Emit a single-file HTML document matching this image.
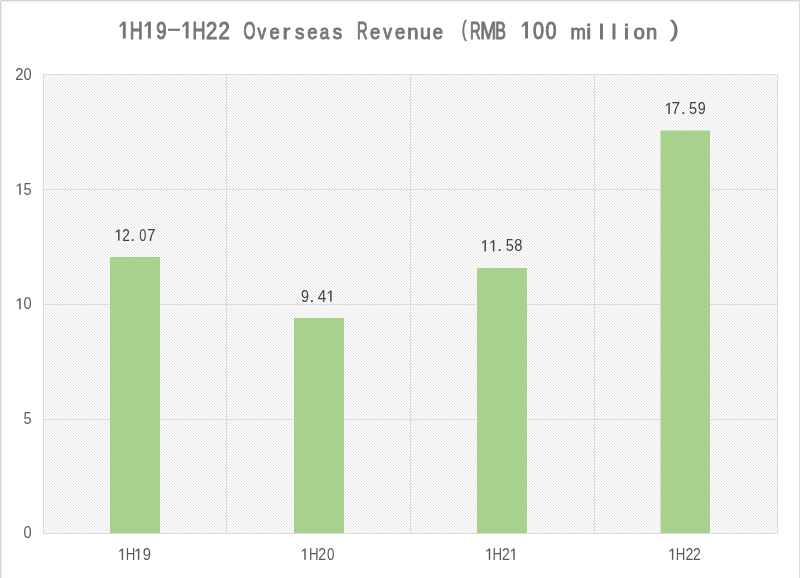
<!DOCTYPE html>
<html>
<head>
<meta charset="utf-8">
<style>
html,body{margin:0;padding:0;background:#fff;}
body{width:800px;height:578px;overflow:hidden;position:relative;font-family:"Liberation Sans", sans-serif;}
svg{position:absolute;left:0;top:0;display:block;will-change:transform;}
</style>
</head>
<body>
<svg width="800" height="578" viewBox="0 0 800 578" role="img" aria-label="1H19-1H22 Overseas Revenue (RMB 100 million): 1H19 12.07, 1H20 9.41, 1H21 11.58, 1H22 17.59">
  <defs>
    <pattern id="hatch" x="0" y="0" width="3" height="3" patternUnits="userSpaceOnUse">
      <rect x="0" y="0" width="3" height="3" fill="#fcfcfc"/>
      <rect x="0" y="0" width="1" height="1" fill="#e4e4e4"/>
      <rect x="1" y="1" width="1" height="1" fill="#e4e4e4"/>
      <rect x="2" y="2" width="1" height="1" fill="#e4e4e4"/>
    </pattern>
  </defs>
  <rect x="0" y="0" width="800" height="578" fill="#ffffff"/>
  <g shape-rendering="crispEdges">
  <rect x="0" y="0" width="800" height="1" fill="#d4d4d4"/>
  <rect x="0" y="1" width="800" height="1" fill="#ececec"/>
  <rect x="0" y="0" width="1" height="578" fill="#d4d4d4"/>
  <rect x="1" y="1" width="1" height="577" fill="#ececec"/>
  <rect x="799" y="0" width="1" height="578" fill="#dedede"/>
  <rect x="0" y="0" width="1" height="1" fill="#f4f4f4"/>
  <rect x="3" y="3" width="795" height="1" fill="#f8f8f8"/>
  <rect x="3" y="3" width="1" height="575" fill="#f8f8f8"/>
  </g>

  <rect x="43" y="74" width="735" height="460" fill="url(#hatch)" shape-rendering="crispEdges"/>
  <g stroke="#dbdbdb" stroke-width="1" shape-rendering="crispEdges" fill="none">
    <line x1="43" y1="74.5" x2="778" y2="74.5"/>
    <line x1="43" y1="189.5" x2="778" y2="189.5"/>
    <line x1="43" y1="304.5" x2="778" y2="304.5"/>
    <line x1="43" y1="419.5" x2="778" y2="419.5"/>
    <line x1="43.5" y1="74" x2="43.5" y2="534"/>
    <line x1="226.5" y1="74" x2="226.5" y2="534"/>
    <line x1="410.5" y1="74" x2="410.5" y2="534"/>
    <line x1="594.5" y1="74" x2="594.5" y2="534"/>
    <line x1="777.5" y1="74" x2="777.5" y2="534"/>
  </g>
  <g fill="#a9d18e" shape-rendering="crispEdges">
    <rect x="110" y="257" width="50" height="276"/>
    <rect x="294" y="318" width="50" height="215"/>
    <rect x="477" y="268" width="50" height="265"/>
    <rect x="660.5" y="130.5" width="49.5" height="402.5" shape-rendering="auto"/>
  </g>
  <line x1="43" y1="533.5" x2="778" y2="533.5" stroke="#dbdbdb" stroke-width="1" shape-rendering="crispEdges"/>

  <g font-family="Liberation Sans" font-weight="normal" font-size="23.2" fill="#767676" stroke="#767676" stroke-width="1.05" stroke-linejoin="round"><text x="-8.38" y="0" transform="translate(136.25 38.5) scale(0.776 1.000)">H</text><text x="-6.45" y="0" transform="translate(161.39 38.5) scale(0.798 1.000)">9</text></g><rect x="122.83" y="21.60" width="2.90" height="16.90" fill="#767676"/><polygon points="123.03,21.60 123.03,24.73 119.69,27.85 119.69,25.35" fill="#767676"/><rect x="147.97" y="21.60" width="2.90" height="16.90" fill="#767676"/><polygon points="148.17,21.60 148.17,24.73 144.82,27.85 144.82,25.35" fill="#767676"/>
  <rect x="167.98" y="28.7" width="11.97" height="2.2" fill="#767676"/>
  <g font-family="Liberation Sans" font-weight="normal" font-size="23.2" fill="#767676" stroke="#767676" stroke-width="1.05" stroke-linejoin="round"><text x="-8.38" y="0" transform="translate(199.10 38.5) scale(0.776 1.000)">H</text><text x="-6.45" y="0" transform="translate(211.67 38.5) scale(0.875 1.000)">2</text><text x="-6.45" y="0" transform="translate(224.24 38.5) scale(0.875 1.000)">2</text><text x="-9.02" y="0" transform="translate(249.38 38.5) scale(0.666 1.000)">O</text><text x="-5.80" y="0" transform="translate(261.95 38.5) scale(0.747 0.910)">v</text><text x="-6.43" y="0" transform="translate(274.52 38.5) scale(0.795 0.910)">e</text><text x="-4.44" y="0" transform="translate(287.09 38.5) scale(1.009 0.910)">r</text><text x="-5.70" y="0" transform="translate(299.66 38.5) scale(0.816 0.910)">s</text><text x="-6.43" y="0" transform="translate(312.23 38.5) scale(0.795 0.910)">e</text><text x="-6.94" y="0" transform="translate(324.80 38.5) scale(0.734 0.910)">a</text><text x="-5.70" y="0" transform="translate(337.37 38.5) scale(0.816 0.910)">s</text><text x="-8.79" y="0" transform="translate(362.51 38.5) scale(0.635 1.000)">R</text><text x="-6.43" y="0" transform="translate(375.08 38.5) scale(0.795 0.910)">e</text><text x="-5.80" y="0" transform="translate(387.65 38.5) scale(0.747 0.910)">v</text><text x="-6.43" y="0" transform="translate(400.22 38.5) scale(0.795 0.910)">e</text><text x="-6.47" y="0" transform="translate(412.79 38.5) scale(0.868 0.910)">n</text><text x="-6.43" y="0" transform="translate(425.36 38.5) scale(0.847 0.910)">u</text><text x="-6.43" y="0" transform="translate(437.93 38.5) scale(0.795 0.910)">e</text></g><rect x="185.69" y="21.60" width="2.90" height="16.90" fill="#767676"/><polygon points="185.88,21.60 185.88,24.73 182.53,27.85 182.53,25.35" fill="#767676"/>
  <g font-family="Liberation Sans" font-weight="normal" font-size="23.2" fill="#767676" stroke="#767676" stroke-width="1.05" stroke-linejoin="round"><text x="-8.79" y="0" transform="translate(475.65 38.5) scale(0.635 1.000)">R</text><text x="-9.66" y="0" transform="translate(488.22 38.5) scale(0.834 1.000)">M</text><text x="-8.08" y="0" transform="translate(500.79 38.5) scale(0.692 1.000)">B</text><text x="-6.45" y="0" transform="translate(538.50 38.5) scale(0.852 1.000)">0</text><text x="-6.45" y="0" transform="translate(551.07 38.5) scale(0.852 1.000)">0</text><text x="-9.67" y="0" transform="translate(578.21 38.5) scale(0.797 0.910)">m</text><text x="-2.57" y="0" transform="translate(588.78 38.5) scale(0.956 0.910)">i</text><text x="-2.58" y="0" transform="translate(601.35 38.5) scale(0.956 0.910)">l</text><text x="-2.58" y="0" transform="translate(613.92 38.5) scale(0.956 0.910)">l</text><text x="-2.57" y="0" transform="translate(626.49 38.5) scale(0.956 0.910)">i</text><text x="-6.45" y="0" transform="translate(639.06 38.5) scale(0.881 0.910)">o</text><text x="-6.47" y="0" transform="translate(651.63 38.5) scale(0.868 0.910)">n</text></g><rect x="525.07" y="21.60" width="2.90" height="16.90" fill="#767676"/><polygon points="525.27,21.60 525.27,24.73 521.92,27.85 521.92,25.35" fill="#767676"/>
  <g font-family="Liberation Sans" font-weight="normal" font-size="21.2" fill="#767676" stroke="#767676" stroke-width="0.7" stroke-linejoin="round"><text x="-4.13" y="0" transform="translate(464.70 35.8) scale(0.694 1.000)">(</text></g>
  <g font-family="Liberation Sans" font-weight="normal" font-size="21.2" fill="#767676" stroke="#767676" stroke-width="0.7" stroke-linejoin="round"><text x="-2.93" y="0" transform="translate(673.70 35.8) scale(1.210 1.000)">)</text></g>

  <g font-family="Liberation Sans" font-weight="normal" font-size="16.7" fill="#595959"><text x="-4.64" y="0" transform="translate(19.45 79.9) scale(0.881 1)">2</text><text x="-4.64" y="0" transform="translate(27.55 79.9) scale(0.877 1)">0</text></g>
  <g font-family="Liberation Sans" font-weight="normal" font-size="16.7" fill="#595959"><text x="-4.63" y="0" transform="translate(27.45 194.7) scale(0.871 1)">5</text></g><rect x="19.27" y="183.50" width="1.45" height="11.20" fill="#595959"/><polygon points="19.47,183.50 19.47,185.12 16.80,186.95 16.80,185.65" fill="#595959"/>
  <g font-family="Liberation Sans" font-weight="normal" font-size="16.7" fill="#595959"><text x="-4.64" y="0" transform="translate(27.60 309.4) scale(0.877 1)">0</text></g><rect x="19.27" y="298.20" width="1.45" height="11.20" fill="#595959"/><polygon points="19.47,298.20 19.47,299.82 16.80,301.65 16.80,300.35" fill="#595959"/>
  <g font-family="Liberation Sans" font-weight="normal" font-size="16.7" fill="#595959"><text x="-4.63" y="0" transform="translate(27.50 423.7) scale(0.871 1)">5</text></g>
  <g font-family="Liberation Sans" font-weight="normal" font-size="16.7" fill="#595959"><text x="-4.64" y="0" transform="translate(27.55 538.2) scale(0.877 1)">0</text></g>
  <g font-family="Liberation Sans" font-weight="normal" font-size="16.7" fill="#404040"><text x="-4.64" y="0" transform="translate(126.00 240.6) scale(0.815 1)">2</text><text x="-2.32" y="0" transform="translate(132.60 240.6) scale(1.132 1)">.</text><text x="-4.64" y="0" transform="translate(142.85 240.6) scale(0.764 1)">0</text><text x="-4.65" y="0" transform="translate(151.20 240.6) scale(0.922 1)">7</text></g><rect x="118.08" y="229.40" width="1.45" height="11.20" fill="#404040"/><polygon points="118.28,229.40 118.28,231.03 115.60,232.85 115.60,231.55" fill="#404040"/>
  <g font-family="Liberation Sans" font-weight="normal" font-size="16.7" fill="#404040"><text x="-4.64" y="0" transform="translate(305.00 301.7) scale(0.856 1)">9</text><text x="-2.32" y="0" transform="translate(311.90 301.7) scale(1.132 1)">.</text><text x="-4.59" y="0" transform="translate(321.90 301.7) scale(0.915 1)">4</text></g><rect x="330.17" y="290.50" width="1.45" height="11.20" fill="#404040"/><polygon points="330.37,290.50 330.37,292.12 327.70,293.95 327.70,292.65" fill="#404040"/>
  <g font-family="Liberation Sans" font-weight="normal" font-size="16.7" fill="#404040"><text x="-2.32" y="0" transform="translate(499.50 251.4) scale(1.132 1)">.</text><text x="-4.63" y="0" transform="translate(509.70 251.4) scale(0.871 1)">5</text><text x="-4.64" y="0" transform="translate(518.30 251.4) scale(0.881 1)">8</text></g><rect x="484.47" y="240.20" width="1.45" height="11.20" fill="#404040"/><polygon points="484.67,240.20 484.67,241.83 482.00,243.65 482.00,242.35" fill="#404040"/><rect x="492.88" y="240.20" width="1.45" height="11.20" fill="#404040"/><polygon points="493.07,240.20 493.07,241.83 490.40,243.65 490.40,242.35" fill="#404040"/>
  <g font-family="Liberation Sans" font-weight="normal" font-size="16.7" fill="#404040"><text x="-4.65" y="0" transform="translate(675.90 114) scale(0.922 1)">7</text><text x="-2.32" y="0" transform="translate(683.25 114) scale(1.132 1)">.</text><text x="-4.63" y="0" transform="translate(693.00 114) scale(0.871 1)">5</text><text x="-4.64" y="0" transform="translate(701.70 114) scale(0.856 1)">9</text></g><rect x="668.38" y="102.80" width="1.45" height="11.20" fill="#404040"/><polygon points="668.58,102.80 668.58,104.42 665.90,106.25 665.90,104.95" fill="#404040"/>
  <g font-family="Liberation Sans" font-weight="normal" font-size="16.7" fill="#595959"><text x="-6.03" y="0" transform="translate(130.60 559.8) scale(0.793 1)">H</text><text x="-4.64" y="0" transform="translate(146.85 559.8) scale(0.894 1)">9</text></g><rect x="121.68" y="548.60" width="1.45" height="11.20" fill="#595959"/><polygon points="121.88,548.60 121.88,550.22 119.20,552.05 119.20,550.75" fill="#595959"/><rect x="137.88" y="548.60" width="1.45" height="11.20" fill="#595959"/><polygon points="138.07,548.60 138.07,550.22 135.40,552.05 135.40,550.75" fill="#595959"/>
  <g font-family="Liberation Sans" font-weight="normal" font-size="16.7" fill="#595959"><text x="-6.03" y="0" transform="translate(313.80 559.8) scale(0.793 1)">H</text><text x="-4.64" y="0" transform="translate(322.10 559.8) scale(0.841 1)">2</text><text x="-4.64" y="0" transform="translate(330.70 559.8) scale(0.802 1)">0</text></g><rect x="304.27" y="548.60" width="1.45" height="11.20" fill="#595959"/><polygon points="304.47,548.60 304.47,550.22 301.80,552.05 301.80,550.75" fill="#595959"/>
  <g font-family="Liberation Sans" font-weight="normal" font-size="16.7" fill="#595959"><text x="-6.03" y="0" transform="translate(497.20 559.8) scale(0.793 1)">H</text><text x="-4.64" y="0" transform="translate(506.00 559.8) scale(0.841 1)">2</text></g><rect x="488.77" y="548.60" width="1.45" height="11.20" fill="#595959"/><polygon points="488.97,548.60 488.97,550.22 486.30,552.05 486.30,550.75" fill="#595959"/><rect x="513.27" y="548.60" width="1.45" height="11.20" fill="#595959"/><polygon points="513.48,548.60 513.48,550.22 510.80,552.05 510.80,550.75" fill="#595959"/>
  <g font-family="Liberation Sans" font-weight="normal" font-size="16.7" fill="#595959"><text x="-6.03" y="0" transform="translate(680.60 559.8) scale(0.793 1)">H</text><text x="-4.64" y="0" transform="translate(689.40 559.8) scale(0.841 1)">2</text><text x="-4.64" y="0" transform="translate(696.90 559.8) scale(0.841 1)">2</text></g><rect x="671.88" y="548.60" width="1.45" height="11.20" fill="#595959"/><polygon points="672.08,548.60 672.08,550.22 669.40,552.05 669.40,550.75" fill="#595959"/>
</svg>
</body>
</html>
